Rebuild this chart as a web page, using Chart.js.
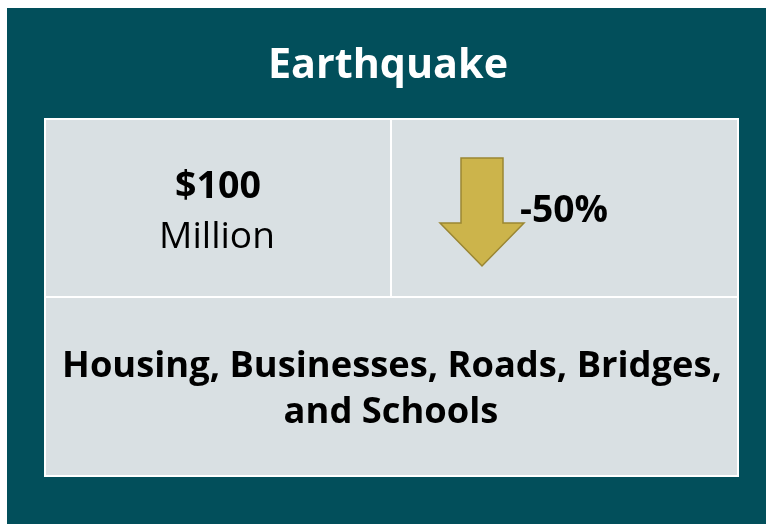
<!DOCTYPE html>
<html>
<head>
<meta charset="utf-8">
<script src="https://cdn.jsdelivr.net/npm/chart.js@4.4.1/dist/chart.umd.min.js"></script>
<style>
  html, body { margin: 0; padding: 0; background: #ffffff; }
  #wrap { width: 766px; height: 524px; }
</style>
</head>
<body>
<div id="wrap"><canvas id="card"></canvas></div>
<script>
// values shown on the card
const title = 'Earthquake';
const amount = ['$100', 'Million'];
const change = ['-50%'];
const assets = ['Housing, Businesses, Roads, Bridges,', 'and Schools'];

const teal = '#024f5b';
const cell = '#d9e0e3';
const gold = '#ccb44b';
const goldEdge = '#9a8633';
const FONT = '"Open Sans", "Noto Sans", sans-serif';

// pick a font size so the text spans roughly the width seen in the picture
function fit(ctx, text, weight, width) {
  ctx.font = weight + ' 40px ' + FONT;
  const w = ctx.measureText(text).width;
  return Math.round(40 * width / w * 10) / 10;
}

function put(ctx, text, x, y, weight, size, color) {
  ctx.font = weight + ' ' + size + 'px ' + FONT;
  ctx.fillStyle = color;
  ctx.textAlign = 'center';
  ctx.textBaseline = 'alphabetic';
  ctx.fillText(text, x, y);
}

const cardPlugin = {
  id: 'card',
  beforeDraw(chart) {
    const ctx = chart.ctx;
    const sx = chart.scales.x, sy = chart.scales.y;
    const X = v => sx.getPixelForValue(v);
    const Y = v => sy.getPixelForValue(v);
    ctx.save();

    // background panel
    ctx.fillStyle = teal;
    ctx.fillRect(X(7), Y(8), X(766) - X(7), Y(524) - Y(8));

    // table cells
    ctx.fillStyle = cell;
    ctx.fillRect(X(44), Y(118), X(739) - X(44), Y(477) - Y(118));
    ctx.strokeStyle = '#ffffff';
    ctx.lineWidth = 2;
    ctx.strokeRect(X(45), Y(119), X(738) - X(45), Y(476) - Y(119));
    ctx.beginPath();
    ctx.moveTo(X(391), Y(119)); ctx.lineTo(X(391), Y(297));
    ctx.moveTo(X(45), Y(297)); ctx.lineTo(X(738), Y(297));
    ctx.stroke();

    // down arrow
    ctx.beginPath();
    ctx.moveTo(X(461), Y(158));
    ctx.lineTo(X(503), Y(158));
    ctx.lineTo(X(503), Y(223));
    ctx.lineTo(X(524), Y(223));
    ctx.lineTo(X(482), Y(266));
    ctx.lineTo(X(440), Y(223));
    ctx.lineTo(X(461), Y(223));
    ctx.closePath();
    ctx.fillStyle = gold;
    ctx.fill();
    ctx.strokeStyle = goldEdge;
    ctx.lineWidth = 1.5;
    ctx.stroke();

    // texts
    put(ctx, title, X(388), Y(78), 'bold', fit(ctx, title, 'bold', 240), '#ffffff');
    put(ctx, amount[0], X(218), Y(198), 'bold', fit(ctx, amount[0], 'bold', 86), '#000000');
    put(ctx, amount[1], X(217), Y(248), 'normal', fit(ctx, amount[1], 'normal', 116), '#000000');
    put(ctx, change[0], X(564), Y(222), 'bold', fit(ctx, change[0], 'bold', 88), '#000000');
    const hs = fit(ctx, assets[0], 'bold', 659);
    put(ctx, assets[0], X(392), Y(377), 'bold', hs, '#000000');
    put(ctx, assets[1], X(391), Y(423), 'bold', hs, '#000000');

    ctx.restore();
  }
};

new Chart(document.getElementById('card'), {
  type: 'scatter',
  data: { datasets: [{ data: [], pointRadius: 0 }] },
  options: {
    responsive: true,
    maintainAspectRatio: false,
    animation: false,
    layout: { padding: 0 },
    plugins: { legend: { display: false }, tooltip: { enabled: false } },
    scales: {
      x: { type: 'linear', min: 0, max: 766, display: false },
      y: { type: 'linear', min: 0, max: 524, reverse: true, display: false }
    }
  },
  plugins: [cardPlugin]
});
</script>
</body>
</html>
